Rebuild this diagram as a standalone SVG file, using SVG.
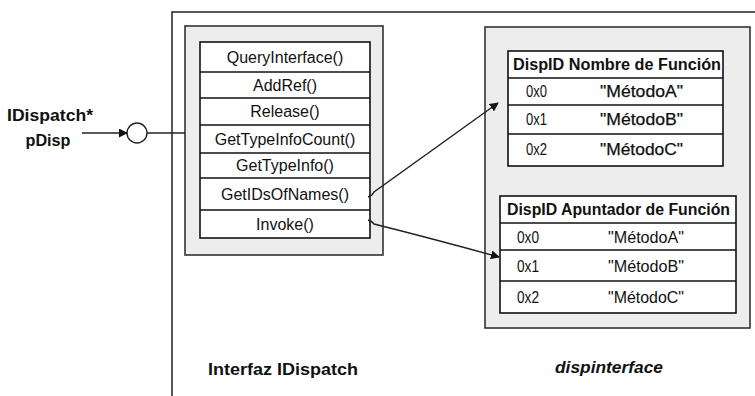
<svg xmlns="http://www.w3.org/2000/svg" width="755" height="396" viewBox="0 0 755 396">
  <style>
    .outer { fill: #ffffff; stroke: #222; stroke-width: 1.5; }
    .panel { fill: #ededed; stroke: #333; stroke-width: 1.6; }
    .tbl { fill: #ffffff; stroke: #111; stroke-width: 1.6; }
    .rowline { stroke: #111; stroke-width: 1.4; }
    .m { font-family: "Liberation Sans", Arial, sans-serif; font-size: 16px; fill: #111; text-anchor: middle; }
    .h { font-family: "Liberation Sans", Arial, sans-serif; font-size: 16px; font-weight: bold; fill: #111; }
    .c { font-family: "Liberation Sans", Arial, sans-serif; font-size: 16px; fill: #111; }
    .n { font-family: "Liberation Sans", Arial, sans-serif; font-size: 17px; fill: #111; }
    .cb { font-family: "Liberation Sans", Arial, sans-serif; font-size: 16px; fill: #111; stroke: #111; stroke-width: 0.25; }
    .lbl { font-family: "Liberation Sans", Arial, sans-serif; font-size: 17px; font-weight: bold; fill: #111; text-anchor: middle; }
    .conn { fill: none; stroke: #222; stroke-width: 1.4; }
  </style>
  <defs>
    <marker id="ah" viewBox="0 0 10 10" refX="9" refY="5" markerWidth="9" markerHeight="9" markerUnits="userSpaceOnUse" orient="auto">
      <path d="M0,0 L10,5 L0,10 z" fill="#111"/>
    </marker>
  </defs>

  <rect id="outer" class="outer" x="172" y="12" width="600" height="400"/>

  <g id="pointer">
    <text class="lbl" x="50" y="121" textLength="86" lengthAdjust="spacingAndGlyphs">IDispatch*</text>
    <text class="lbl" x="48" y="146" textLength="45" lengthAdjust="spacingAndGlyphs">pDisp</text>
  </g>

  <g id="interface-circle">
    <circle cx="137" cy="133" r="10" fill="#fff" stroke="#222" stroke-width="1.4"/>
  </g>

  <g id="idispatch-interface">
    <rect class="panel" x="185" y="26" width="198" height="229"/>
    <rect class="tbl" x="200" y="42" width="170" height="196"/>
    <line class="rowline" x1="200" y1="72" x2="370" y2="72"/>
    <line class="rowline" x1="200" y1="98" x2="370" y2="98"/>
    <line class="rowline" x1="200" y1="125" x2="370" y2="125"/>
    <line class="rowline" x1="200" y1="153" x2="370" y2="153"/>
    <line class="rowline" x1="200" y1="178" x2="370" y2="178"/>
    <line class="rowline" x1="200" y1="210" x2="370" y2="210"/>
    <text class="m" x="285" y="63">QueryInterface()</text>
    <text class="m" x="285" y="91">AddRef()</text>
    <text class="m" x="285" y="117">Release()</text>
    <text class="m" x="285" y="145">GetTypeInfoCount()</text>
    <text class="m" x="285" y="171">GetTypeInfo()</text>
    <text class="m" x="285" y="200">GetIDsOfNames()</text>
    <text class="m" x="285" y="230">Invoke()</text>
  </g>

  <g id="dispinterface">
    <rect class="panel" x="485" y="27" width="265" height="301"/>
  </g>

  <g id="names-table">
    <rect class="tbl" x="508" y="51" width="215" height="115"/>
    <line class="rowline" x1="508" y1="78" x2="723" y2="78"/>
    <line class="rowline" x1="508" y1="105" x2="723" y2="105"/>
    <line class="rowline" x1="508" y1="134" x2="723" y2="134"/>
    <text class="h" x="513" y="70" textLength="208" lengthAdjust="spacingAndGlyphs">DispID  Nombre de Función</text>
    <text class="n" x="526" y="97" textLength="21" lengthAdjust="spacingAndGlyphs">0x0</text>
    <text class="n" x="526" y="125" textLength="21" lengthAdjust="spacingAndGlyphs">0x1</text>
    <text class="n" x="526" y="155" textLength="21" lengthAdjust="spacingAndGlyphs">0x2</text>
    <text class="cb" x="600" y="97" textLength="83" lengthAdjust="spacingAndGlyphs">"MétodoA"</text>
    <text class="cb" x="600" y="125" textLength="83" lengthAdjust="spacingAndGlyphs">"MétodoB"</text>
    <text class="cb" x="600" y="155" textLength="83" lengthAdjust="spacingAndGlyphs">"MétodoC"</text>
  </g>

  <g id="pointers-table">
    <rect class="tbl" x="500" y="196" width="236" height="117"/>
    <line class="rowline" x1="500" y1="223" x2="736" y2="223"/>
    <line class="rowline" x1="500" y1="250" x2="736" y2="250"/>
    <line class="rowline" x1="500" y1="281" x2="736" y2="281"/>
    <text class="h" x="507" y="215" textLength="223" lengthAdjust="spacingAndGlyphs">DispID Apuntador de Función</text>
    <text class="n" x="517" y="243" textLength="22" lengthAdjust="spacingAndGlyphs">0x0</text>
    <text class="n" x="517" y="272" textLength="22" lengthAdjust="spacingAndGlyphs">0x1</text>
    <text class="n" x="517" y="303" textLength="22" lengthAdjust="spacingAndGlyphs">0x2</text>
    <text class="c" x="608" y="243" textLength="76" lengthAdjust="spacingAndGlyphs">"MétodoA"</text>
    <text class="c" x="608" y="272" textLength="76" lengthAdjust="spacingAndGlyphs">"MétodoB"</text>
    <text class="c" x="608" y="303" textLength="76" lengthAdjust="spacingAndGlyphs">"MétodoC"</text>
  </g>

  <g id="labels">
    <text class="lbl" x="283" y="375" textLength="150" lengthAdjust="spacingAndGlyphs">Interfaz IDispatch</text>
    <text class="lbl" x="609" y="373" font-style="italic" textLength="108" lengthAdjust="spacingAndGlyphs">dispinterface</text>
  </g>

  <g id="connectors">
    <line class="conn" x1="82" y1="133" x2="127" y2="133" marker-end="url(#ah)"/>
    <line class="conn" x1="147" y1="133" x2="185" y2="133"/>
    <path class="conn" d="M368,197 Q372,196 374,192 L498,103" marker-end="url(#ah)"/>
    <path class="conn" d="M368,220 Q372,221 374,224 Q430,238 499,257" marker-end="url(#ah)"/>
  </g>
</svg>
